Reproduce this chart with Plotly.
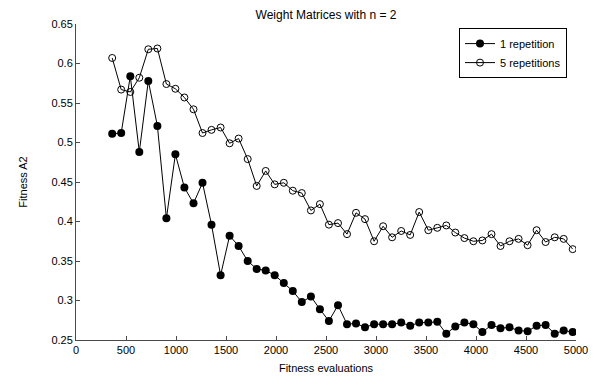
import plotly.graph_objects as go

# Fitness evaluations (x positions of the samples)
evaluations = [362, 452, 543, 633, 723, 814, 904, 994, 1084, 1175,
               1265, 1355, 1446, 1536, 1626, 1717, 1807, 1897, 1987, 2078,
               2168, 2258, 2349, 2439, 2529, 2620, 2710, 2800, 2890, 2981,
               3071, 3161, 3252, 3342, 3432, 3523, 3613, 3703, 3793, 3884,
               3974, 4064, 4155, 4245, 4335, 4426, 4516, 4606, 4696, 4787,
               4877, 4967]

one_repetition = [0.511, 0.512, 0.584, 0.488, 0.578, 0.521, 0.404, 0.485, 0.443, 0.423,
                  0.449, 0.396, 0.332, 0.382, 0.369, 0.350, 0.340, 0.338, 0.332, 0.322,
                  0.312, 0.298, 0.305, 0.289, 0.274, 0.294, 0.270, 0.271, 0.266, 0.270,
                  0.270, 0.270, 0.272, 0.268, 0.272, 0.272, 0.273, 0.258, 0.267, 0.272,
                  0.270, 0.260, 0.269, 0.265, 0.266, 0.262, 0.261, 0.268, 0.269, 0.258,
                  0.262, 0.260]

five_repetitions = [0.607, 0.567, 0.564, 0.582, 0.618, 0.619, 0.574, 0.568, 0.557, 0.542,
                    0.512, 0.516, 0.519, 0.499, 0.505, 0.479, 0.445, 0.464, 0.447, 0.449,
                    0.439, 0.436, 0.414, 0.422, 0.396, 0.398, 0.384, 0.411, 0.403, 0.375,
                    0.394, 0.380, 0.388, 0.383, 0.412, 0.389, 0.392, 0.395, 0.386, 0.379,
                    0.375, 0.376, 0.384, 0.369, 0.375, 0.378, 0.370, 0.389, 0.374, 0.380,
                    0.378, 0.365]

x_ticks = [0, 500, 1000, 1500, 2000, 2500, 3000, 3500, 4000, 4500, 5000]
y_ticks = [0.25, 0.30, 0.35, 0.40, 0.45, 0.50, 0.55, 0.60, 0.65]
y_ticklabels = ["0.25", "0.3", "0.35", "0.4", "0.45", "0.5", "0.55", "0.6", "0.65"]

FONT = "Liberation Sans, Arial, Helvetica, sans-serif"

fig = go.Figure()
fig.add_trace(go.Scatter(
    x=evaluations, y=one_repetition, mode="lines+markers", name="1 repetition",
    line=dict(color="black", width=1),
    marker=dict(symbol="circle", size=8, color="black"),
))
fig.add_trace(go.Scatter(
    x=evaluations, y=five_repetitions, mode="lines+markers", name="5 repetitions",
    line=dict(color="black", width=1),
    marker=dict(symbol="circle-open", size=7, color="black", line=dict(width=1, color="black")),
))

axis_common = dict(
    showline=True, linecolor="#4a4a4a", linewidth=1,
    ticks="inside", ticklen=4, tickcolor="#4a4a4a", tickwidth=1,
    showgrid=False, zeroline=False, mirror=False, automargin=False,
    tickfont=dict(family=FONT, size=11, color="black"),
)

W, H = 597, 373  # page body has an 8px margin

fig.update_layout(
    width=W, height=H,
    margin=dict(l=68, r=29, t=16, b=41),
    paper_bgcolor="white", plot_bgcolor="white",
    font=dict(family=FONT, size=11, color="black"),
    title=dict(text="Weight Matrices with n = 2", x=(68 + 568) / 2 / W, xanchor="center",
               y=1 - 3 / H, yanchor="top", pad=dict(t=0, b=0),
               font=dict(family=FONT, size=12, color="black")),
    xaxis=dict(range=[0, 5000], tickvals=x_ticks, ticktext=[str(v) for v in x_ticks],
               title=dict(text="Fitness evaluations", font=dict(family=FONT, size=11), standoff=9),
               **axis_common),
    yaxis=dict(range=[0.25, 0.65], tickvals=y_ticks, ticktext=y_ticklabels,
               title=dict(text="Fitness A2", font=dict(family=FONT, size=11), standoff=21),
               **axis_common),
    legend=dict(x=0.982, y=0.987, xanchor="right", yanchor="top",
                bgcolor="white", bordercolor="black", borderwidth=1,
                font=dict(family=FONT, size=11, color="black"),
                tracegroupgap=0, itemwidth=30),
    showlegend=True,
)

fig.write_html("out.html")
